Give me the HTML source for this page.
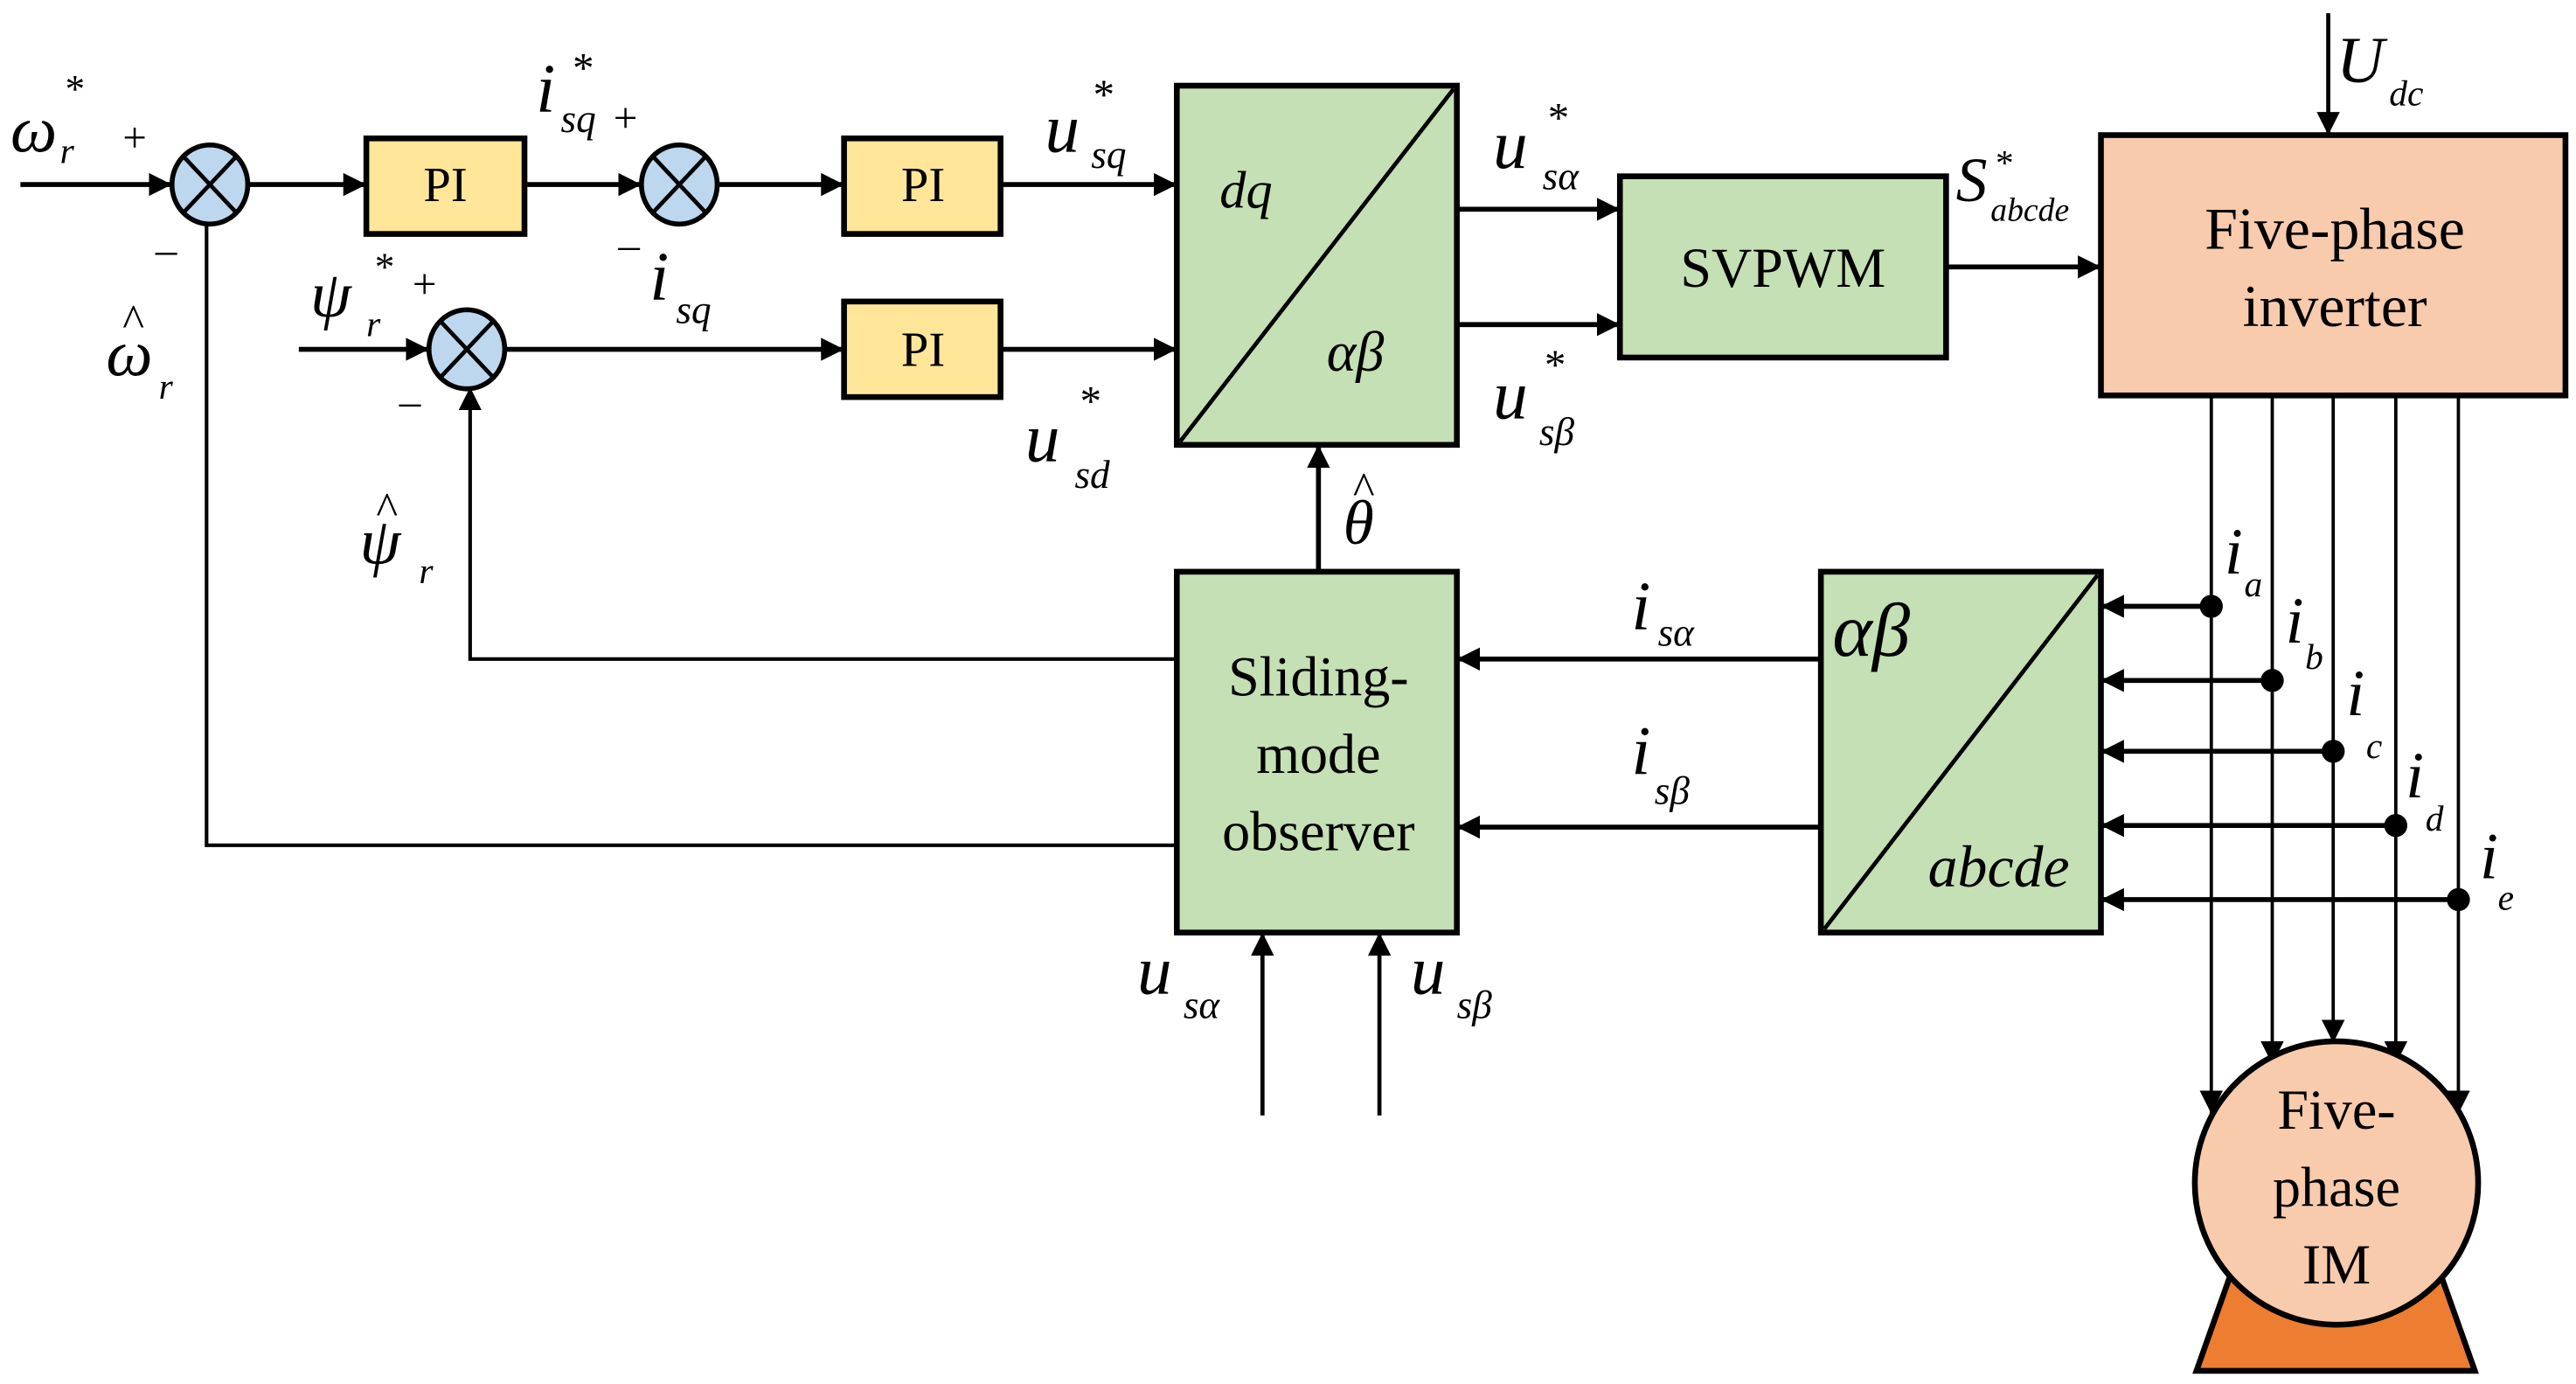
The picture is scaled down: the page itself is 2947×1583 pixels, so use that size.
<!DOCTYPE html>
<html><head><meta charset="utf-8"><style>
html,body{margin:0;padding:0;background:#fff;}
svg{display:block;}
svg text{font-family:"Liberation Serif","DejaVu Serif","Times New Roman",Times,serif;}
</style></head><body>
<svg width="2947" height="1583" viewBox="0 0 1563 840" xmlns="http://www.w3.org/2000/svg">
<defs>
<marker id="b" markerWidth="14" markerHeight="14" refX="14" refY="7" orient="auto" markerUnits="userSpaceOnUse" viewBox="0 0 14 14">
<path d="M0,0 L14,7 L0,14 z" fill="#000"/></marker>
</defs>
<g stroke="#000" fill="none">
<line x1="12" y1="112" x2="104" y2="112" stroke-width="3" marker-end="url(#b)"/>
<line x1="151" y1="112" x2="222" y2="112" stroke-width="3" marker-end="url(#b)"/>
<line x1="318" y1="112" x2="389" y2="112" stroke-width="3" marker-end="url(#b)"/>
<line x1="436" y1="112" x2="512" y2="112" stroke-width="3" marker-end="url(#b)"/>
<line x1="607" y1="112" x2="714" y2="112" stroke-width="3" marker-end="url(#b)"/>
<line x1="181" y1="212" x2="260" y2="212" stroke-width="3" marker-end="url(#b)"/>
<line x1="307" y1="212" x2="512" y2="212" stroke-width="3" marker-end="url(#b)"/>
<line x1="607" y1="212" x2="714" y2="212" stroke-width="3" marker-end="url(#b)"/>
<line x1="884" y1="127" x2="983" y2="127" stroke-width="3" marker-end="url(#b)"/>
<line x1="884" y1="197" x2="983" y2="197" stroke-width="3" marker-end="url(#b)"/>
<line x1="1181" y1="162" x2="1275" y2="162" stroke-width="3" marker-end="url(#b)"/>
<line x1="1413" y1="8" x2="1413" y2="82" stroke-width="2.5" marker-end="url(#b)"/>
<line x1="800" y1="347" x2="800" y2="270" stroke-width="3" marker-end="url(#b)"/>
<polyline points="714,400 285,400 285,235" stroke-width="2.2" marker-end="url(#b)"/>
<polyline points="714,513 125,513 125,136" stroke-width="2.2"/>
<line x1="1105" y1="400" x2="884" y2="400" stroke-width="3" marker-end="url(#b)"/>
<line x1="1105" y1="502" x2="884" y2="502" stroke-width="3" marker-end="url(#b)"/>
<line x1="766" y1="677" x2="766" y2="566" stroke-width="2.5" marker-end="url(#b)"/>
<line x1="837" y1="677" x2="837" y2="566" stroke-width="2.5" marker-end="url(#b)"/>
<line x1="1342" y1="240" x2="1342" y2="676" stroke-width="2" marker-end="url(#b)"/>
<line x1="1379" y1="240" x2="1379" y2="646" stroke-width="2" marker-end="url(#b)"/>
<line x1="1416" y1="240" x2="1416" y2="633" stroke-width="2" marker-end="url(#b)"/>
<line x1="1454" y1="240" x2="1454" y2="646" stroke-width="2" marker-end="url(#b)"/>
<line x1="1492" y1="240" x2="1492" y2="676" stroke-width="2" marker-end="url(#b)"/>
<line x1="1342" y1="368" x2="1275" y2="368" stroke-width="3" marker-end="url(#b)"/>
<line x1="1379" y1="413" x2="1275" y2="413" stroke-width="3" marker-end="url(#b)"/>
<line x1="1416" y1="456" x2="1275" y2="456" stroke-width="3" marker-end="url(#b)"/>
<line x1="1454" y1="501" x2="1275" y2="501" stroke-width="3" marker-end="url(#b)"/>
<line x1="1492" y1="546" x2="1275" y2="546" stroke-width="3" marker-end="url(#b)"/>
</g>
<g fill="#000">
<circle cx="1342" cy="368" r="7"/><circle cx="1379" cy="413" r="7"/><circle cx="1416" cy="456" r="7"/><circle cx="1454" cy="501" r="7"/><circle cx="1492" cy="546" r="7"/>
</g>
<g stroke="#000" stroke-width="3" fill="#BDD7EE">
<ellipse cx="127" cy="112" rx="23" ry="24"/>
<ellipse cx="412" cy="112" rx="23" ry="24"/>
<ellipse cx="283" cy="212" rx="23" ry="24"/>
</g>
<g stroke="#000" stroke-width="2.5">
<line x1="111" y1="95" x2="143" y2="129"/><line x1="143" y1="95" x2="111" y2="129"/>
<line x1="396" y1="95" x2="428" y2="129"/><line x1="428" y1="95" x2="396" y2="129"/>
<line x1="267" y1="195" x2="299" y2="229"/><line x1="299" y1="195" x2="267" y2="229"/>
</g>
<g stroke="#000" stroke-width="3.5">
<rect x="222" y="84" width="96" height="58" fill="#FFE699"/>
<rect x="512" y="84" width="95" height="58" fill="#FFE699"/>
<rect x="512" y="183" width="95" height="58" fill="#FFE699"/>
<rect x="714" y="52" width="170" height="218" fill="#C5E0B4"/>
<rect x="983" y="107" width="198" height="110" fill="#C5E0B4"/>
<rect x="1275" y="82" width="282" height="158" fill="#F8CBAD"/>
<rect x="714" y="347" width="170" height="219" fill="#C5E0B4"/>
<rect x="1105" y="347" width="170" height="219" fill="#C5E0B4"/>
<polygon points="1355,770 1480,770 1502,832 1333,832" fill="#ED7D31"/>
<circle cx="1418" cy="718" r="86" fill="#F8CBAD"/>
</g>
<g stroke="#000" stroke-width="2.5">
<line x1="716" y1="268" x2="882" y2="54"/>
<line x1="1107" y1="564" x2="1273" y2="349"/>
</g>
<g font-size="30" text-anchor="middle">
<text x="270" y="122">PI</text>
<text x="560" y="122">PI</text>
<text x="560" y="222">PI</text>
<text x="1082" y="174" font-size="34">SVPWM</text>
<text x="1417" y="151" font-size="36">Five-phase</text>
<text x="1417" y="198" font-size="36">inverter</text>
<text x="800" y="422" font-size="34">Sliding-</text>
<text x="800" y="469" font-size="34">mode</text>
<text x="800" y="516" font-size="34">observer</text>
<text x="1418" y="685" font-size="34">Five-</text>
<text x="1418" y="732" font-size="34">phase</text>
<text x="1418" y="779" font-size="34">IM</text>
</g>
<g font-style="italic">
<text x="740" y="126" font-size="32">dq</text>
<text x="805" y="225" font-size="34">αβ</text>
<text x="1112" y="398" font-size="46">αβ</text>
<text x="1170" y="538" font-size="36">abcde</text>
</g>
<g font-style="italic">
<text x="6" y="92" font-size="40">ω</text><text x="36" y="99" font-size="22">r</text><text x="38" y="62" font-size="24">*</text>
<text x="74" y="92" font-size="26" font-style="normal">+</text>
<text x="94" y="160" font-size="26" font-style="normal">–</text>
<text x="64" y="228" font-size="40">ω</text><text x="74" y="204" font-size="28" font-style="normal">^</text><text x="96" y="242" font-size="22">r</text>
<text x="325" y="68" font-size="42">i</text><text x="340" y="80" font-size="24">sq</text><text x="346" y="50" font-size="26">*</text>
<text x="372" y="80" font-size="26" font-style="normal">+</text>
<text x="375" y="157" font-size="26" font-style="normal">–</text>
<text x="394" y="182" font-size="42">i</text><text x="410" y="196" font-size="24">sq</text>
<text x="188" y="192" font-size="40">ψ</text><text x="222" y="204" font-size="22">r</text><text x="226" y="170" font-size="24">*</text>
<text x="250" y="181" font-size="26" font-style="normal">+</text>
<text x="242" y="252" font-size="26" font-style="normal">–</text>
<text x="218" y="342" font-size="40">ψ</text><text x="228" y="318" font-size="28" font-style="normal">^</text><text x="254" y="354" font-size="22">r</text>
<text x="634" y="92" font-size="42">u</text><text x="662" y="102" font-size="24">sq</text><text x="662" y="66" font-size="26">*</text>
<text x="622" y="280" font-size="42">u</text><text x="652" y="296" font-size="24">sd</text><text x="654" y="252" font-size="26">*</text>
<text x="906" y="102" font-size="42">u</text><text x="936" y="115" font-size="24">sα</text><text x="938" y="80" font-size="26">*</text>
<text x="906" y="254" font-size="42">u</text><text x="934" y="270" font-size="24">sβ</text><text x="936" y="230" font-size="26">*</text>
<text x="1187" y="122" font-size="38">S</text><text x="1208" y="134" font-size="20">abcde</text><text x="1210" y="106" font-size="22">*</text>
<text x="1418" y="50" font-size="40">U</text><text x="1450" y="64" font-size="22">dc</text>
<text x="815" y="330" font-size="38">θ</text><text x="821" y="306" font-size="28" font-style="normal">^</text>
<text x="990" y="382" font-size="42">i</text><text x="1006" y="392" font-size="24">sα</text>
<text x="990" y="470" font-size="42">i</text><text x="1004" y="488" font-size="24">sβ</text>
<text x="690" y="603" font-size="42">u</text><text x="718" y="618" font-size="24">sα</text>
<text x="856" y="603" font-size="42">u</text><text x="884" y="618" font-size="24">sβ</text>
<text x="1350" y="348" font-size="40">i</text><text x="1362" y="362" font-size="22">a</text>
<text x="1387" y="390" font-size="40">i</text><text x="1399" y="406" font-size="22">b</text>
<text x="1424" y="434" font-size="40">i</text><text x="1436" y="460" font-size="22">c</text>
<text x="1460" y="484" font-size="40">i</text><text x="1472" y="504" font-size="22">d</text>
<text x="1505" y="533" font-size="40">i</text><text x="1516" y="552" font-size="22">e</text>
</g>
</svg>
</body></html>
